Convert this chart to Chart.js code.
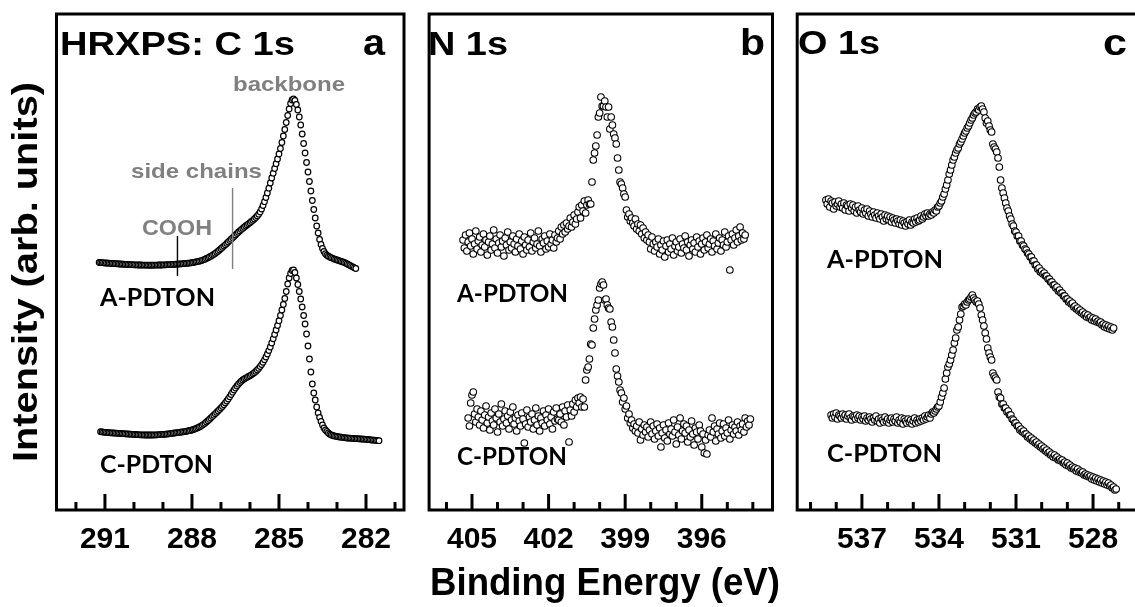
<!DOCTYPE html>
<html>
<head>
<meta charset="utf-8">
<script src="https://cdn.jsdelivr.net/npm/chart.js@4.4.1/dist/chart.umd.min.js"></script>
<style>
  html, body { margin: 0; padding: 0; background: #fff; width: 1135px; height: 607px; overflow: hidden; }
  canvas { position: absolute; top: 0; }
</style>
</head>
<body>
<canvas id="c1s" width="424" height="607" style="left:0px"></canvas>
<canvas id="n1s" width="364" height="607" style="left:424px"></canvas>
<canvas id="o1s" width="400" height="607" style="left:788px"></canvas>
<script>
// HRXPS spectra, intensity in arbitrary units, energy grid = start - i*step (eV)

// C 1s
const C1S_A_START = 291.20, C1S_C_START = 291.15, C1S_STEP = 0.05;
const C1S_A_PDTON = [
  247.5, 247.5, 247.3, 247.2, 247.0, 247.0, 246.8, 246.8, 246.6, 246.6,
  246.5, 246.3, 246.3, 246.1, 246.0, 246.0, 245.8, 245.8, 245.6, 245.6,
  245.5, 245.4, 245.4, 245.3, 245.2, 245.2, 245.1, 245.0, 245.0, 245.0,
  244.9, 244.9, 244.9, 244.8, 244.8, 244.8, 244.8, 244.8, 244.9, 244.9,
  244.9, 245.0, 245.0, 245.0, 245.1, 245.2, 245.2, 245.3, 245.4, 245.4,
  245.5, 245.6, 245.7, 245.8, 245.9, 246.0, 246.1, 246.2, 246.3, 246.5,
  246.6, 246.8, 246.9, 247.1, 247.3, 247.6, 247.9, 248.2, 248.5, 248.8,
  249.2, 249.7, 250.2, 250.8, 251.5, 252.2, 253.0, 253.8, 254.7, 255.6,
  256.6, 257.7, 258.8, 260.0, 261.3, 262.6, 263.9, 265.2, 266.6, 268.0,
  269.4, 270.8, 272.2, 273.6, 275.0, 276.4, 277.8, 279.1, 280.4, 281.6,
  282.8, 284.0, 285.1, 286.2, 287.3, 288.5, 289.7, 291.0, 292.5, 294.1,
  295.8, 298.0, 301.0, 304.5, 308.3, 312.5, 317.0, 321.8, 327.0, 332.0,
  336.8, 341.5, 346.3, 351.0, 356.0, 361.5, 367.5, 374.0, 380.5, 387.5,
  394.5, 401.0, 406.5, 410.0, 411.0, 409.5, 405.5, 400.0, 393.0, 385.0,
  376.0, 366.5, 357.0, 347.5, 338.0, 328.5, 319.0, 309.5, 300.5, 292.0,
  284.0, 277.0, 270.5, 265.5, 261.5, 258.5, 256.3, 254.8, 253.8, 253.0,
  252.3, 251.7, 251.1, 250.6, 250.1, 249.6, 249.1, 248.6, 248.1, 247.5,
  246.9, 246.1, 245.3, 244.5, 243.7, 243.0, 242.2, 241.5
];
const C1S_C_PDTON = [
  78.3, 78.1, 77.9, 77.7, 77.6, 77.4, 77.3, 77.2, 77.1, 77.0,
  76.9, 76.8, 76.7, 76.6, 76.5, 76.4, 76.3, 76.2, 76.1, 76.0,
  75.9, 75.8, 75.7, 75.6, 75.5, 75.4, 75.3, 75.2, 75.2, 75.1,
  75.1, 75.0, 75.0, 75.0, 75.0, 75.0, 75.0, 75.1, 75.1, 75.2,
  75.3, 75.4, 75.5, 75.6, 75.7, 75.9, 76.0, 76.2, 76.4, 76.6,
  76.8, 77.0, 77.2, 77.4, 77.6, 77.8, 78.0, 78.2, 78.4, 78.7,
  79.0, 79.3, 79.6, 80.0, 80.5, 81.0, 81.6, 82.3, 83.0, 83.8,
  84.7, 85.7, 86.8, 88.0, 89.3, 90.6, 92.0, 93.4, 94.8, 96.2,
  97.6, 99.0, 100.5, 102.0, 103.6, 105.3, 107.1, 109.0, 111.0, 113.2,
  115.5, 117.8, 120.0, 122.0, 124.0, 125.8, 127.4, 128.8, 130.0, 131.0,
  131.9, 132.7, 133.5, 134.3, 135.2, 136.2, 137.3, 138.6, 140.0, 141.6,
  143.4, 145.4, 147.7, 150.2, 153.0, 156.0, 159.4, 163.0, 167.0, 171.2,
  175.6, 180.0, 184.5, 189.3, 194.5, 200.0, 205.5, 211.5, 218.5, 226.0,
  232.0, 236.5, 239.5, 240.0, 237.5, 232.0, 225.5, 218.5, 211.0, 203.0,
  194.5, 186.0, 176.0, 164.0, 151.0, 138.0, 126.0, 117.0, 110.0, 103.0,
  97.0, 92.5, 88.5, 85.0, 82.0, 80.0, 78.5, 77.0, 75.8, 75.0,
  74.5, 74.1, 73.8, 73.5, 73.2, 73.0, 72.8, 72.6, 72.4, 72.2,
  72.0, 71.9, 71.8, 71.7, 71.6, 71.5, 71.4, 71.3, 71.2, 71.1,
  71.0, 70.9, 70.8, 70.7, 70.5, 70.3, 70.2, 70.0, 69.9, 69.8,
  69.6, 69.4, 69.3
];
// component markers: energy and intensity span of each marker line
const COOH_MARK = { e: 288.5, from: 234, to: 274 };
const SIDE_MARK = { e: 286.6, from: 241, to: 322 };

// N 1s
const N1S_A_START = 405.35, N1S_C_START = 405.15, N1S_STEP = 0.05;
const N1S_A_PDTON = [
  270, 262, 275, 259, 268, 277, 264, 271, 256, 266,
  279, 261, 269, 273, 258, 265, 276, 263, 270, 255,
  268, 274, 260, 266, 280, 262, 271, 257, 267, 275,
  263, 269, 254, 272, 265, 278, 260, 268, 262, 274,
  266, 258, 271, 264, 276, 261, 269, 256, 273, 265,
  260, 270, 263, 277, 259, 268, 272, 262, 266, 279,
  264, 258, 271, 267, 274, 261, 269, 263, 276, 266,
  270, 262, 275, 268, 272, 279, 271, 283, 276, 285,
  278, 287, 281, 284, 292, 283, 288, 295, 286, 291,
  298, 303, 292, 305, 299, 309, 297, 305, 310, 306,
  306, 328, 350, 357, 364, 375, 393, 397, 413, 404,
  404, 409, 403, 393, 403, 381, 393, 385, 376, 372,
  366, 352, 340, 328, 326, 322, 316, 313, 300, 293,
  296, 289, 292, 287, 284, 291, 281, 286, 279, 285,
  276, 282, 272, 278, 270, 275, 268, 261, 273, 266,
  259, 268, 263, 271, 256, 265, 260, 269, 253, 264,
  270, 258, 266, 261, 272, 255, 264, 268, 259, 263,
  271, 257, 266, 262, 274, 260, 268, 254, 265, 270,
  261, 267, 258, 273, 263, 269, 256, 266, 272, 260,
  268, 275, 262, 266, 271, 258, 269, 264, 276, 261,
  267, 272, 259, 270, 265, 278, 263, 268, 274, 240,
  270, 276, 265, 272, 280, 268, 274, 283, 270, 277, 271, 275
];
const N1S_C_PDTON = [
  92, 84, 107, 115, 118, 96, 88, 101, 93, 85,
  99, 90, 82, 95, 104, 87, 93, 80, 97, 89,
  85, 101, 92, 78, 96, 88, 106, 84, 91, 99,
  87, 94, 81, 98, 90, 103, 86, 92, 79, 95,
  89, 84, 97, 91, 67, 86, 100, 83, 93, 88,
  96, 81, 90, 102, 85, 94, 79, 92, 87, 99,
  84, 95, 90, 101, 86, 93, 81, 98, 89, 102,
  91, 90, 96, 88, 103, 85, 99, 93, 105, 68,
  100, 94, 106, 98, 110, 103, 112, 107, 113, 103,
  111, 103, 130, 140, 143, 151, 166, 165, 182, 191,
  200, 205, 210, 222, 226, 228, 225, 210, 211, 205,
  202, 201, 188, 183, 170, 157, 141, 134, 128, 120,
  117, 108, 112, 101, 104, 92, 96, 87, 90, 82,
  86, 79, 84, 77, 88, 70, 81, 75, 85, 78,
  83, 73, 80, 88, 76, 84, 71, 79, 86, 74,
  82, 63, 77, 85, 72, 80, 69, 87, 76, 81,
  74, 90, 78, 66, 83, 75, 92, 71, 79, 86,
  77, 84, 68, 80, 73, 89, 76, 65, 82, 78,
  71, 85, 79, 63, 76, 57, 70, 56, 75, 80,
  73, 92, 78, 84, 69, 81, 76, 87, 72, 79,
  86, 74, 82, 77, 90, 71, 80, 85, 76, 83,
  79, 88, 75, 84, 80, 86, 78, 92, 83, 89, 85, 91
];

// O 1s
const O1S_A_START = 538.40, O1S_C_START = 538.20, O1S_STEP = 0.05;
const O1S_A_PDTON = [
  310, 306, 311, 303, 309, 307, 301, 308, 304, 306,
  309, 303, 306, 302, 307, 300, 305, 304, 299, 306,
  302, 305, 299, 303, 297, 304, 300, 298, 302, 296,
  300, 297, 301, 294, 299, 296, 293, 298, 295, 292,
  297, 294, 291, 296, 293, 289, 295, 291, 294, 290,
  293, 288, 292, 290, 287, 291, 289, 286, 290, 285,
  289, 287, 284, 288, 286, 290, 285, 288, 287, 291,
  288, 292, 289, 290, 294, 291, 293, 296, 294, 297,
  294, 296, 295, 298, 297, 300, 299, 303, 304, 307,
  309, 313, 316, 321, 325, 330, 336, 340, 345, 350,
  353, 357, 360, 362, 366, 368, 371, 374, 377, 379,
  382, 384, 387, 390, 392, 395, 397, 398, 401, 400,
  403, 404, 401, 398, 392, 387, 389, 384, 380, 378,
  366, 363, 361, 358, 352, 343, 330, 322, 317, 312,
  307, 302, 299, 294, 291, 286, 284, 279, 278, 274,
  274, 269, 269, 265, 264, 261, 260, 257, 256, 253,
  253, 249, 249, 245, 245, 241, 242, 238, 239, 236,
  237, 234, 234, 231, 231, 228, 228, 225, 225, 222,
  223, 219, 220, 217, 217, 214, 214, 211, 211, 208,
  209, 206, 207, 203, 204, 201, 202, 199, 200, 197,
  198, 195, 196, 193, 195, 192, 193, 190, 192, 189,
  191, 188, 189, 187, 188, 185, 186, 183, 185, 182,
  184, 181, 183, 180, 182
];
const O1S_C_PDTON = [
  95, 92, 96, 93, 97, 91, 95, 94, 92, 96,
  93, 95, 91, 94, 96, 92, 90, 94, 93, 91,
  95, 92, 94, 90, 93, 91, 94, 89, 92, 90,
  93, 91, 88, 92, 90, 94, 89, 91, 87, 92,
  90, 88, 93, 89, 91, 87, 90, 92, 88, 91,
  89, 93, 87, 90, 88, 92, 86, 91, 89, 87,
  91, 88, 90, 86, 89, 92, 87, 90, 88, 91,
  89, 92, 90, 94, 91, 93, 95, 92, 96, 98,
  97, 99, 101, 103, 104, 108, 113, 117, 122, 131,
  137, 143, 146, 150, 155, 160, 167, 172, 180, 183,
  190, 196, 203, 204, 206, 205, 208, 210, 211, 213,
  215, 212, 210, 208, 209, 206, 202, 195, 190, 184,
  177, 171, 162, 157, 153, 150, 137, 134, 132, 130,
  118, 113, 112, 106, 106, 102, 102, 98, 99, 95,
  95, 91, 90, 87, 87, 84, 84, 80, 81, 78,
  79, 76, 76, 73, 74, 71, 72, 69, 70, 67,
  68, 65, 66, 63, 64, 61, 62, 59, 60, 57,
  58, 55, 56, 53, 55, 52, 53, 50, 51, 49,
  50, 47, 48, 45, 47, 44, 45, 42, 43, 41,
  42, 39, 41, 38, 39, 37, 38, 35, 36, 34,
  35, 33, 34, 31, 33, 30, 32, 29, 31, 28,
  30, 27, 29, 26, 28, 25, 27, 24, 25, 22,
  23, 20, 21
];

const C1S_TICKS = [291, 288, 285, 282];
const N1S_TICKS = [405, 402, 399, 396];
const O1S_TICKS = [537, 534, 531, 528];

const ARIAL = '"Liberation Sans", Arial, sans-serif';
const TITLE_FONT = 'bold 33px ' + ARIAL;
const LETTER_FONT = 'bold 36px ' + ARIAL;
const NOTE_FONT = 'bold 21px ' + ARIAL;
const SAMPLE_FONT = 'bold 24px Lato, "Open Sans", sans-serif';
const GREY = '#808080';

function series(start, step, vals) {
  return vals.map((v, i) => ({ x: +(start - i * step).toFixed(2), y: v }));
}

function dots(data, r, bw) {
  return {
    type: 'scatter', data, showLine: false,
    pointStyle: 'circle', pointRadius: r, pointBorderWidth: bw,
    pointBorderColor: '#000', pointBackgroundColor: '#fff'
  };
}

function marker(m, color) {
  return {
    type: 'line', data: [{ x: m.e, y: m.from }, { x: m.e, y: m.to }],
    showLine: true, borderColor: color, borderWidth: 1.4, pointRadius: 0
  };
}

// text squeezed/stretched to a given width
function drawText(ctx, t, ox) {
  ctx.save();
  ctx.font = t.font;
  ctx.fillStyle = t.color || '#000';
  ctx.textAlign = t.align || 'left';
  ctx.textBaseline = 'alphabetic';
  const w = ctx.measureText(t.text).width;
  ctx.translate(t.x - ox, t.y);
  if (t.rotate) ctx.rotate(-Math.PI / 2);
  ctx.scale(t.w / w, 1);
  ctx.fillText(t.text, 0, 0);
  ctx.restore();
}

// frame, inward minor/major ticks, and panel texts
const frame = {
  id: 'frame',
  afterDatasetsDraw(chart, args, opts) {
    const { ctx, chartArea: a } = chart;
    const x = chart.scales.x;
    ctx.save();
    ctx.strokeStyle = '#000';
    ctx.lineWidth = 3;
    for (let e = Math.ceil(x.min); e <= Math.floor(x.max); e++) {
      const px = x.getPixelForValue(e);
      const len = opts.major.includes(e) ? 16 : 8;
      ctx.beginPath();
      ctx.moveTo(px, a.bottom);
      ctx.lineTo(px, a.bottom - len);
      ctx.stroke();
    }
    ctx.strokeRect(a.left, a.top, a.right - a.left, a.bottom - a.top);
    ctx.restore();
    const ox = chart.canvas.offsetLeft;
    opts.texts.forEach(t => drawText(ctx, t, ox));
  }
};

function panel(id, xMin, xMax, ticks, padL, padR, datasets, texts) {
  return new Chart(document.getElementById(id), {
    type: 'scatter',
    data: { datasets },
    options: {
      responsive: false,
      animation: false,
      events: [],
      layout: { padding: { left: padL, right: padR, top: 14, bottom: 0 } },
      plugins: {
        legend: { display: false },
        tooltip: { enabled: false },
        frame: { major: ticks, texts }
      },
      scales: {
        x: {
          type: 'linear', reverse: true, min: xMin, max: xMax,
          afterBuildTicks: s => { s.ticks = ticks.map(v => ({ value: v })); },
          afterFit: s => { s.height = 97; },
          grid: { display: false, drawTicks: false, tickLength: 0 },
          border: { display: false },
          ticks: {
            autoSkip: false, maxRotation: 0, padding: 12, color: '#000',
            font: { family: ARIAL, size: 30, weight: 'bold' }
          }
        },
        y: { display: false, min: 0, max: 496 }
      }
    },
    plugins: [frame]
  });
}

panel('c1s', 280.69, 292.67, C1S_TICKS, 56.5, 20, [
  marker(COOH_MARK, '#000'),
  marker(SIDE_MARK, GREY),
  dots(series(C1S_A_START, C1S_STEP, C1S_A_PDTON), 2.8, 1.2),
  dots(series(C1S_C_START, C1S_STEP, C1S_C_PDTON), 2.8, 1.2)
], [
  { text: 'HRXPS: C 1s', x: 60, y: 55, w: 235, font: TITLE_FONT },
  { text: 'a', x: 363, y: 55, w: 22, font: LETTER_FONT },
  { text: 'backbone', x: 233, y: 90.5, w: 112, font: NOTE_FONT, color: GREY },
  { text: 'side chains', x: 131, y: 178, w: 131, font: NOTE_FONT, color: GREY },
  { text: 'COOH', x: 142, y: 235, w: 70, font: 'bold 22px ' + ARIAL, color: GREY },
  { text: 'A-PDTON', x: 100, y: 306, w: 115, font: SAMPLE_FONT },
  { text: 'C-PDTON', x: 100, y: 473, w: 113, font: SAMPLE_FONT },
  { text: 'Intensity (arb. units)', x: 37, y: 272, w: 380, font: 'bold 35px ' + ARIAL, align: 'center', rotate: true }
]);

panel('n1s', 393.23, 406.68, N1S_TICKS, 1.8, 15.5, [
  dots(series(N1S_A_START, N1S_STEP, N1S_A_PDTON), 3.3, 1.1),
  dots(series(N1S_C_START, N1S_STEP, N1S_C_PDTON), 3.3, 1.1)
], [
  { text: 'N 1s', x: 428, y: 55, w: 80, font: TITLE_FONT },
  { text: 'b', x: 740, y: 55, w: 25, font: LETTER_FONT },
  { text: 'A-PDTON', x: 457, y: 301.5, w: 111, font: SAMPLE_FONT },
  { text: 'C-PDTON', x: 457, y: 464.5, w: 110, font: SAMPLE_FONT },
  { text: 'Binding Energy (eV)', x: 605, y: 595, w: 350, font: 'bold 39px ' + ARIAL, align: 'center' }
]);

panel('o1s', 526.02, 539.52, O1S_TICKS, 9.2, 44.1, [
  dots(series(O1S_A_START, O1S_STEP, O1S_A_PDTON), 3.3, 1.1),
  dots(series(O1S_C_START, O1S_STEP, O1S_C_PDTON), 3.3, 1.1)
], [
  { text: 'O 1s', x: 798, y: 54, w: 82, font: TITLE_FONT },
  { text: 'c', x: 1103, y: 55, w: 24, font: LETTER_FONT },
  { text: 'A-PDTON', x: 827, y: 268, w: 116, font: SAMPLE_FONT },
  { text: 'C-PDTON', x: 827, y: 462, w: 115, font: SAMPLE_FONT }
]);
</script>
</body>
</html>
